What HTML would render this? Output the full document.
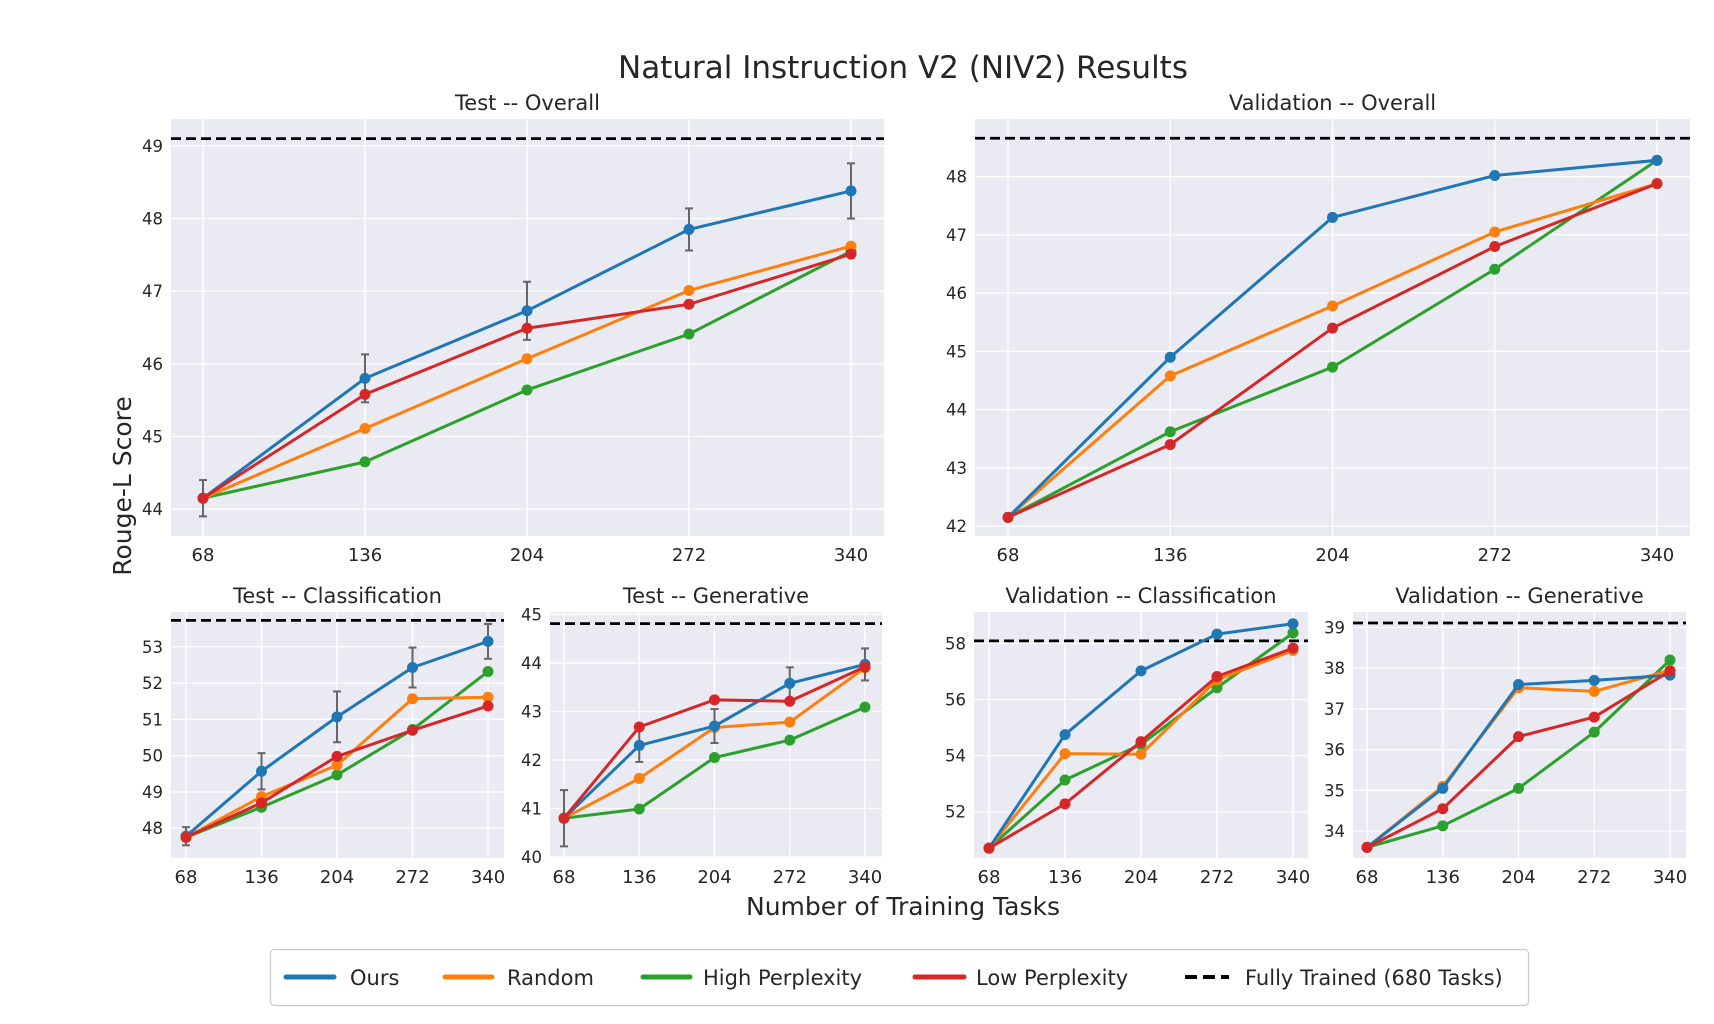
<!DOCTYPE html>
<html><head><meta charset="utf-8"><style>
body{margin:0;background:#fff;}
svg{display:block;font-family:"DejaVu Sans","Liberation Sans",sans-serif;}
</style></head><body>
<svg id="fig" width="1714" height="1024" viewBox="0 0 1714 1024">
<rect width="1714" height="1024" fill="#fff"/>
<text x="903" y="78" font-size="31" text-anchor="middle" fill="#262626">Natural Instruction V2 (NIV2) Results</text>
<text x="0" y="0" font-size="25" text-anchor="middle" fill="#262626" transform="translate(131,486) rotate(-90)">Rouge-L Score</text>
<text x="903" y="915" font-size="25" text-anchor="middle" fill="#262626">Number of Training Tasks</text>
<g id="legend">
<rect x="270.5" y="949.5" width="1258" height="56" rx="4" fill="#fff" stroke="#cccccc" stroke-width="1.2"/>
</g>
</svg>
<script>
const NS='http://www.w3.org/2000/svg';
const svg=document.getElementById('fig');
const xCats=[68,136,204,272,340];
const seriesNames=['Ours','Random','High Perplexity','Low Perplexity'];
const seriesColors=['#1f77b4','#ff7f0e','#2ca02c','#d62728'];
// Test -- Overall
const testOverallOurs=[44.15,45.8,46.73,47.85,48.38];
const testOverallRandom=[44.15,45.11,46.07,47.01,47.62];
const testOverallHigh=[44.15,44.65,45.64,46.41,47.55];
const testOverallLow=[44.15,45.58,46.49,46.82,47.51];
const testOverallErr=[0.25,0.33,0.4,0.29,0.38];
const testOverallFull=49.1;
const testOverallTicks=[44,45,46,47,48,49];
// Validation -- Overall
const valOverallOurs=[42.15,44.9,47.3,48.02,48.28];
const valOverallRandom=[42.15,44.58,45.78,47.05,47.88];
const valOverallHigh=[42.15,43.62,44.73,46.41,48.28];
const valOverallLow=[42.15,43.4,45.4,46.8,47.88];
const valOverallFull=48.66;
const valOverallTicks=[42,43,44,45,46,47,48];
// Test -- Classification
const testClsOurs=[47.78,49.57,51.07,52.43,53.15];
const testClsRandom=[47.75,48.87,49.74,51.57,51.61];
const testClsHigh=[47.75,48.58,49.47,50.72,52.32];
const testClsLow=[47.75,48.7,49.98,50.7,51.37];
const testClsErr=[0.25,0.5,0.7,0.55,0.48];
const testClsFull=53.73;
const testClsTicks=[48,49,50,51,52,53];
// Test -- Generative
const testGenOurs=[40.8,42.3,42.7,43.58,43.97];
const testGenRandom=[40.8,41.62,42.67,42.78,43.9];
const testGenHigh=[40.8,40.99,42.05,42.41,43.09];
const testGenLow=[40.8,42.68,43.24,43.21,43.92];
const testGenErr=[0.58,0.34,0.35,0.33,0.33];
const testGenFull=44.81;
const testGenTicks=[40,41,42,43,44,45];
// Validation -- Classification
const valClsOurs=[50.7,54.75,57.02,58.33,58.7];
const valClsRandom=[50.7,54.07,54.05,56.7,57.75];
const valClsHigh=[50.7,53.13,54.4,56.42,58.37];
const valClsLow=[50.7,52.28,54.5,56.82,57.83];
const valClsFull=58.09;
const valClsTicks=[52,54,56,58];
// Validation -- Generative
const valGenOurs=[33.6,35.05,37.6,37.7,37.83];
const valGenRandom=[33.6,35.1,37.52,37.43,37.95];
const valGenHigh=[33.6,34.13,35.05,36.43,38.2];
const valGenLow=[33.6,34.55,36.32,36.8,37.93];
const valGenFull=39.11;
const valGenTicks=[34,35,36,37,38,39];

function el(tag,attrs,parent){const e=document.createElementNS(NS,tag);for(const k in attrs)e.setAttribute(k,attrs[k]);(parent||svg).appendChild(e);return e;}

function panel(cfg){
  const g=el('g',{});
  
  
  const {L,R,T,B,x0,x1,ymin,ymax}=cfg;
  const xs=v=>x0+(v-xCats[0])/(xCats[4]-xCats[0])*(x1-x0);
  const ys=v=>B-(v-ymin)/(ymax-ymin)*(B-T);
  const bg=el('rect',{x:L,y:T,width:R-L,height:B-T,fill:'#eaeaf2'},g);
  
  
  xCats.forEach(c=>{
    el('line',{x1:xs(c),x2:xs(c),y1:T,y2:B,stroke:'#fff','stroke-width':1.3},g);
    const t=el('text',{x:xs(c),y:B+25,'font-size':18,'text-anchor':'middle',fill:'#262626'},g);
    t.textContent=c;
    
    
  });
  cfg.ticks.forEach(v=>{
    el('line',{x1:L,x2:R,y1:ys(v),y2:ys(v),stroke:'#fff','stroke-width':1.3},g);
    const t=el('text',{x:L-8,y:ys(v)+6,'font-size':16.5,'text-anchor':'end',fill:'#262626'},g);
    t.textContent=v;
    
    
  });
  const dl=el('line',{x1:L,x2:R,y1:ys(cfg.full),y2:ys(cfg.full),stroke:'#000','stroke-width':2.8,'stroke-dasharray':'10 5'},g);
  
  
  const order=[2,1,0,3];
  order.forEach(si=>{
    const vals=cfg.series[si];
    const pts=vals.map((v,i)=>xs(xCats[i])+','+ys(v)).join(' ');
    const pl=el('polyline',{points:pts,fill:'none',stroke:seriesColors[si],'stroke-width':3,'stroke-linejoin':'round'},g);
    
    
    if(si===0&&cfg.err){
      vals.forEach((v,i)=>{
        const x=xs(xCats[i]),a=ys(v-cfg.err[i]),b=ys(v+cfg.err[i]);
        el('line',{x1:x,x2:x,y1:a,y2:b,stroke:'#666','stroke-width':2},g);
        el('line',{x1:x-4,x2:x+4,y1:a,y2:a,stroke:'#666','stroke-width':2},g);
        el('line',{x1:x-4,x2:x+4,y1:b,y2:b,stroke:'#666','stroke-width':2},g);
      });
    }
    vals.forEach((v,i)=>{
      const c=el('circle',{cx:xs(xCats[i]),cy:ys(v),r:5.5,fill:seriesColors[si]},g);
      
      
    });
  });
  const tt=el('text',{x:(L+R)/2,y:T-9,'font-size':21,'text-anchor':'middle',fill:'#262626'},g);
  tt.textContent=cfg.title;
  
  
}

panel({name:'test-overall-panel',title:'Test -- Overall',L:171,R:884,T:119,B:536,x0:203,x1:851,ymin:43.63,ymax:49.37,ticks:testOverallTicks,full:testOverallFull,err:testOverallErr,series:[testOverallOurs,testOverallRandom,testOverallHigh,testOverallLow]});
panel({name:'validation-overall-panel',title:'Validation -- Overall',L:975,R:1690,T:119,B:536,x0:1008,x1:1657,ymin:41.83,ymax:48.99,ticks:valOverallTicks,full:valOverallFull,series:[valOverallOurs,valOverallRandom,valOverallHigh,valOverallLow]});
panel({name:'test-classification-panel',title:'Test -- Classification',L:171,R:504,T:612,B:858,x0:186,x1:488,ymin:47.18,ymax:53.96,ticks:testClsTicks,full:testClsFull,err:testClsErr,series:[testClsOurs,testClsRandom,testClsHigh,testClsLow]});
panel({name:'test-generative-panel',title:'Test -- Generative',L:550,R:882,T:612,B:858,x0:564,x1:865,ymin:39.98,ymax:45.05,ticks:testGenTicks,full:testGenFull,err:testGenErr,series:[testGenOurs,testGenRandom,testGenHigh,testGenLow]});
panel({name:'validation-classification-panel',title:'Validation -- Classification',L:974,R:1308,T:612,B:858,x0:989,x1:1293,ymin:50.35,ymax:59.12,ticks:valClsTicks,full:valClsFull,series:[valClsOurs,valClsRandom,valClsHigh,valClsLow]});
panel({name:'validation-generative-panel',title:'Validation -- Generative',L:1353,R:1686,T:612,B:858,x0:1367,x1:1670,ymin:33.34,ymax:39.38,ticks:valGenTicks,full:valGenFull,series:[valGenOurs,valGenRandom,valGenHigh,valGenLow]});

// legend
const lg=document.getElementById('legend');
const legX=[[286,334,350],[445,492,507],[643,690,703],[915,964,976],[1185,1229,1245]];
const legLabels=['Ours','Random','High Perplexity','Low Perplexity','Fully Trained (680 Tasks)'];
legLabels.forEach((lab,i)=>{
  const ln=el('line',{x1:legX[i][0],x2:legX[i][1],y1:977,y2:977,stroke:i<4?seriesColors[i]:'#000','stroke-width':i<4?5:4,'stroke-linecap':i<4?'round':'butt','stroke-dasharray':i<4?'none':'12 6'},lg);
  
  
  const t=el('text',{x:legX[i][2],y:985,'font-size':21,fill:'#262626'},lg);
  t.textContent=lab;
  
  
});
</script>
</body></html>
